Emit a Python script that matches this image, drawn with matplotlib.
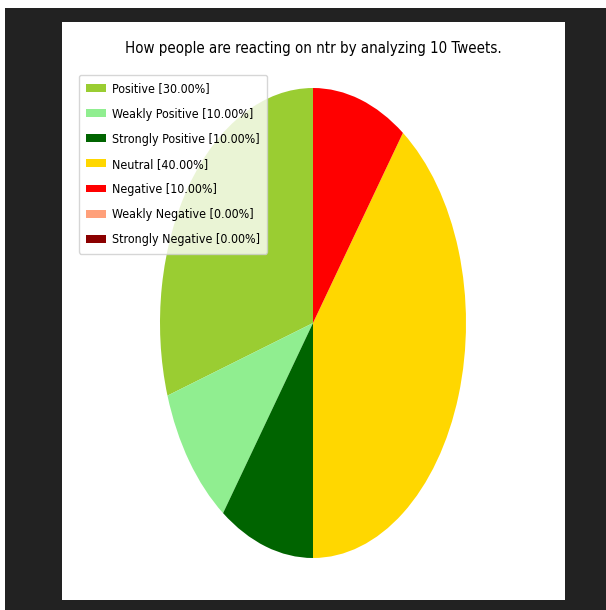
import matplotlib
matplotlib.use("Agg")
import matplotlib.pyplot as plt

labels = ["Positive", "Weakly Positive", "Strongly Positive", "Neutral",
          "Negative", "Weakly Negative", "Strongly Negative"]
percents = [30.00, 10.00, 10.00, 40.00, 10.00, 0.00, 0.00]
colors = ["yellowgreen", "lightgreen", "darkgreen", "gold", "red",
          "lightsalmon", "darkred"]
title = "How people are reacting on ntr by analyzing 10 Tweets."

W, H = 606, 610
fig = plt.figure(figsize=(W / 100, H / 100), dpi=100, facecolor="white")

# dark frame of the screenshot + white figure area
bg = fig.add_axes([0, 0, 1, 1], zorder=-10)
bg.set_xlim(0, W)
bg.set_ylim(H, 0)
bg.axis("off")
bg.add_patch(plt.Rectangle((5, 8), W - 5, H - 8, facecolor="#222222", edgecolor="none"))
bg.add_patch(plt.Rectangle((62, 22), 565 - 62, 600 - 22, facecolor="white", edgecolor="none"))

font = "DejaVu Sans"

# pie axes, stretched (not equal aspect)
ax = fig.add_axes([160 / W, (H - 558) / H, (466 - 160) / W, (558 - 88) / H])
patches, _ = ax.pie(percents, colors=colors, startangle=90)
ax.set_aspect("auto")
ax.set_xlim(-1, 1)
ax.set_ylim(-1, 1)
ax.axis("off")

leg_labels = [f"{l} [{p:.2f}%]" for l, p in zip(labels, percents)]
fig.legend(patches, leg_labels, loc="upper left",
           bbox_to_anchor=(79 / W, 1 - 75 / H), borderaxespad=0,
           prop={"family": font, "size": 8.9, "stretch": "condensed"},
           framealpha=0.8, handlelength=1.6, handleheight=0.6,
           handletextpad=0.45, labelspacing=0.98, borderpad=0.6)

fig.text(313 / W, 1 - 48 / H, title, ha="center", va="center",
         family=font, fontsize=10.8, fontstretch="condensed")

fig.savefig("out.png", dpi=100, facecolor=fig.get_facecolor())
